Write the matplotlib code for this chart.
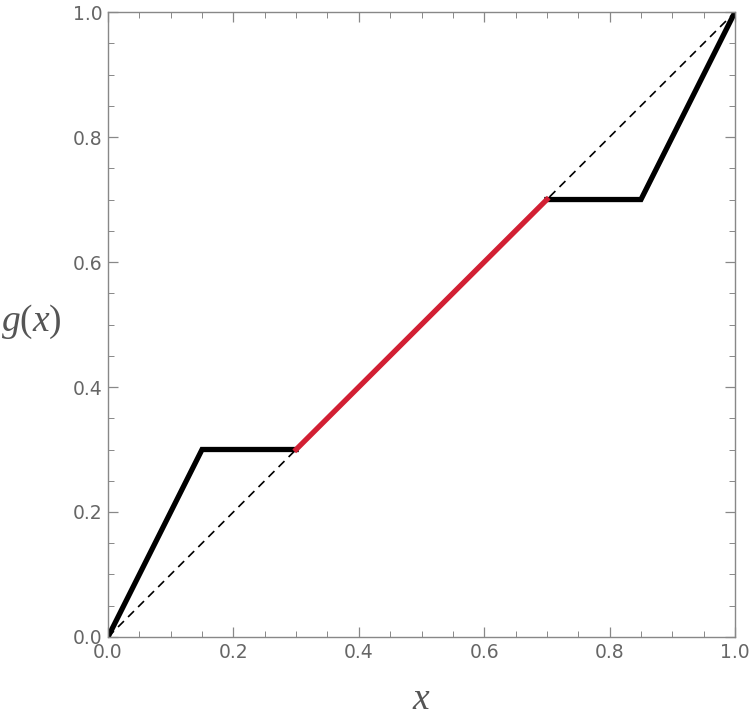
import matplotlib
matplotlib.use("Agg")
import matplotlib.pyplot as plt
from matplotlib.ticker import MultipleLocator

# data
x_left = [0.0, 0.15, 0.3]
g_left = [0.0, 0.3, 0.3]
x_mid = [0.3, 0.7]
g_mid = [0.3, 0.7]
x_right = [0.7, 0.85, 1.0]
g_right = [0.7, 0.7, 1.0]
x_diag = [0.0, 1.0]
g_diag = [0.0, 1.0]

plt.rcParams['mathtext.fontset'] = 'custom'
plt.rcParams['mathtext.rm'] = 'Liberation Serif'
plt.rcParams['mathtext.it'] = 'Liberation Serif:italic'

fig = plt.figure(figsize=(7.5, 7.25), dpi=100)
ax = fig.add_axes([0.144, 0.1214, 0.836, 0.862])

ax.plot(x_diag, g_diag, color='black', lw=1.2, ls=(0, (5, 3.5)))
ax.plot(x_left, g_left, color='black', lw=3.8, solid_joinstyle='miter')
ax.plot(x_right, g_right, color='black', lw=3.8, solid_joinstyle='miter')
ax.plot(x_mid, g_mid, color='#d21f33', lw=3.8)

ax.set_xlim(0, 1)
ax.set_ylim(0, 1)
ax.xaxis.set_major_locator(MultipleLocator(0.2))
ax.yaxis.set_major_locator(MultipleLocator(0.2))
ax.xaxis.set_minor_locator(MultipleLocator(0.05))
ax.yaxis.set_minor_locator(MultipleLocator(0.05))
ax.xaxis.set_major_formatter(plt.FuncFormatter(lambda v, p: f"{v:.1f}"))
ax.yaxis.set_major_formatter(plt.FuncFormatter(lambda v, p: f"{v:.1f}"))

for s in ax.spines.values():
    s.set_color('#888888')
    s.set_linewidth(1.0)
ax.tick_params(which='both', direction='in', top=True, right=True,
               color='#888888', labelcolor='#666666', labelsize=13.5)
ax.tick_params(which='major', length=7, width=0.9, pad=4)
ax.tick_params(which='minor', length=4, width=0.7)

ax.set_xlabel(r'$x$', fontsize=27, color='#555555', labelpad=14)
ax.set_ylabel(r'$g(x)$', fontsize=27, color='#555555', rotation=0,
              ha='center', va='center')
ax.yaxis.set_label_coords(-0.123, 0.505)

fig.savefig('out.png', dpi=100)
